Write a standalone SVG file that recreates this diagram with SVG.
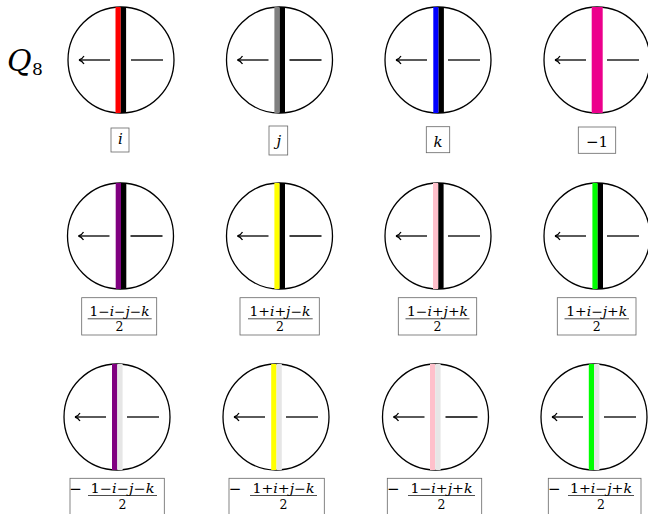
<svg xmlns="http://www.w3.org/2000/svg" width="648" height="514" viewBox="0 0 648 514" font-family="DejaVu Serif, serif">
<style>
.c{fill:#fff;stroke:#000;stroke-width:1.3}
.ln{fill:none;stroke:#000;stroke-width:1.3}
.bx{fill:#fff;stroke:#666;stroke-width:0.8}
text{font-family:"DejaVu Serif",serif;fill:#000}
.t{font-size:12.5px}
.b{font-size:15px}
.m{font-size:15px}
.v{font-style:italic}
.bar{stroke:#000;stroke-width:0.7}
</style>
<defs>
<g id="disc">
<circle class="c" cx="0" cy="0" r="53"/>
</g>
<g id="arrows">
<line class="ln" x1="-42" y1="0" x2="-11" y2="0"/>
<path class="ln" d="M-37,-4 C-38.5,-1.5 -40.5,-0.3 -42,0 C-40.5,0.3 -38.5,1.5 -37,4"/>
<line class="ln" x1="10" y1="0" x2="42" y2="0"/>
</g>
</defs>
<rect width="648" height="514" fill="#fff"/>
<g id="title">
<text class="v" x="7" y="71" font-size="30">Q</text>
<text x="32" y="75" font-size="17">8</text>
</g>
<!-- Row 1 -->
<g id="n-i">
<use href="#disc" x="121" y="60"/>
<rect x="115.5" y="7" width="5.3" height="106" fill="#ff0000"/>
<rect x="120.8" y="7" width="5.3" height="106" fill="#000"/>
<use href="#arrows" x="121" y="60"/>
<rect class="bx" x="111" y="128" width="18" height="24"/>
<text class="b v" x="120.5" y="144" text-anchor="middle">i</text>
</g>
<g id="n-j">
<use href="#disc" x="279.5" y="60"/>
<rect x="274.4" y="7" width="5.3" height="106" fill="#808080"/>
<rect x="279.7" y="7" width="5.3" height="106" fill="#000"/>
<use href="#arrows" x="279.5" y="60"/>
<rect class="bx" x="269" y="126" width="18.7" height="29"/>
<text class="b v" x="278.8" y="145.5" text-anchor="middle">j</text>
</g>
<g id="n-k">
<use href="#disc" x="438" y="60"/>
<rect x="433.3" y="7" width="5.3" height="106" fill="#0000ff"/>
<rect x="438.6" y="7" width="5.3" height="106" fill="#000"/>
<use href="#arrows" x="438" y="60"/>
<rect class="bx" x="426.3" y="126.7" width="23.4" height="26"/>
<text class="b v" x="438" y="147" text-anchor="middle">k</text>
</g>
<g id="n-m1">
<use href="#disc" x="597" y="60"/>
<rect x="591.7" y="7" width="11" height="106" fill="#ec008c"/>
<use href="#arrows" x="597" y="60"/>
<rect class="bx" x="578.3" y="127" width="37.4" height="26.3"/>
<text class="b" x="597" y="146.5" text-anchor="middle">−1</text>
</g>
<!-- Row 2 -->
<g id="n-a">
<use href="#disc" x="120.5" y="236"/>
<rect x="115.7" y="183" width="5.3" height="106" fill="#800080"/>
<rect x="121" y="183" width="5.3" height="106" fill="#000"/>
<use href="#arrows" x="120.5" y="236"/>
<rect class="bx" x="81.7" y="297.7" width="75" height="37.3"/>
<text class="t" x="119.5" y="315.5" text-anchor="middle" textLength="60" lengthAdjust="spacingAndGlyphs">1−<tspan class="v">i</tspan>−<tspan class="v">j</tspan>−<tspan class="v">k</tspan></text>
<line class="bar" x1="87.7" y1="318.8" x2="151.7" y2="318.8"/>
<text class="t" x="119.5" y="331" text-anchor="middle">2</text>
</g>
<g id="n-b">
<use href="#disc" x="279.5" y="236"/>
<rect x="274.4" y="183" width="5.3" height="106" fill="#ffff00"/>
<rect x="279.7" y="183" width="5.3" height="106" fill="#000"/>
<use href="#arrows" x="279.5" y="236"/>
<rect class="bx" x="240" y="297.7" width="79.3" height="37.3"/>
<text class="t" x="280" y="315.5" text-anchor="middle" textLength="61" lengthAdjust="spacingAndGlyphs">1+<tspan class="v">i</tspan>+<tspan class="v">j</tspan>−<tspan class="v">k</tspan></text>
<line class="bar" x1="248" y1="318.8" x2="312.7" y2="318.8"/>
<text class="t" x="280" y="331" text-anchor="middle">2</text>
</g>
<g id="n-c">
<use href="#disc" x="438" y="236"/>
<rect x="433" y="183" width="5.3" height="106" fill="#ffc0cb"/>
<rect x="438.3" y="183" width="5.3" height="106" fill="#000"/>
<use href="#arrows" x="438" y="236"/>
<rect class="bx" x="398.3" y="297.7" width="78.4" height="37.3"/>
<text class="t" x="437.5" y="315.5" text-anchor="middle" textLength="61" lengthAdjust="spacingAndGlyphs">1−<tspan class="v">i</tspan>+<tspan class="v">j</tspan>+<tspan class="v">k</tspan></text>
<line class="bar" x1="405.5" y1="318.8" x2="469.5" y2="318.8"/>
<text class="t" x="437.5" y="331" text-anchor="middle">2</text>
</g>
<g id="n-d">
<use href="#disc" x="597" y="236"/>
<rect x="592.4" y="183" width="5.3" height="106" fill="#00ff00"/>
<rect x="597.7" y="183" width="5.3" height="106" fill="#000"/>
<use href="#arrows" x="597" y="236"/>
<rect class="bx" x="557.3" y="297.7" width="78.7" height="37.3"/>
<text class="t" x="596.7" y="315.5" text-anchor="middle" textLength="61" lengthAdjust="spacingAndGlyphs">1+<tspan class="v">i</tspan>−<tspan class="v">j</tspan>+<tspan class="v">k</tspan></text>
<line class="bar" x1="564.5" y1="318.8" x2="629" y2="318.8"/>
<text class="t" x="596.7" y="331" text-anchor="middle">2</text>
</g>
<!-- Row 3 -->
<g id="n-na">
<use href="#disc" x="117" y="417"/>
<rect x="112" y="364" width="5.3" height="106" fill="#800080"/>
<rect x="117.3" y="364" width="5.3" height="106" fill="#e6e6e6"/>
<use href="#arrows" x="117" y="417"/>
<rect class="bx" x="70" y="478.3" width="94.3" height="40"/>
<text class="m" x="75.5" y="494" text-anchor="middle">−</text>
<text class="t" x="122.5" y="492.5" text-anchor="middle" textLength="64" lengthAdjust="spacingAndGlyphs">1−<tspan class="v">i</tspan>−<tspan class="v">j</tspan>−<tspan class="v">k</tspan></text>
<line class="bar" x1="88" y1="495.5" x2="157" y2="495.5"/>
<text class="t" x="122.5" y="508.5" text-anchor="middle">2</text>
</g>
<g id="n-nb">
<use href="#disc" x="276" y="417"/>
<rect x="271.2" y="364" width="5.3" height="106" fill="#ffff00"/>
<rect x="276.5" y="364" width="5.3" height="106" fill="#e6e6e6"/>
<use href="#arrows" x="276" y="417"/>
<rect class="bx" x="229" y="478.3" width="95.3" height="40"/>
<text class="m" x="235" y="494" text-anchor="middle">−</text>
<text class="t" x="283.5" y="492.5" text-anchor="middle" textLength="62" lengthAdjust="spacingAndGlyphs">1+<tspan class="v">i</tspan>+<tspan class="v">j</tspan>−<tspan class="v">k</tspan></text>
<line class="bar" x1="250" y1="495.5" x2="317" y2="495.5"/>
<text class="t" x="283.5" y="508.5" text-anchor="middle">2</text>
</g>
<g id="n-nc">
<use href="#disc" x="435.5" y="417"/>
<rect x="430" y="364" width="5.3" height="106" fill="#ffc0cb"/>
<rect x="435.3" y="364" width="5.3" height="106" fill="#e6e6e6"/>
<use href="#arrows" x="435.5" y="417"/>
<rect class="bx" x="387.3" y="478.3" width="94.4" height="40"/>
<text class="m" x="393.3" y="494" text-anchor="middle">−</text>
<text class="t" x="441.5" y="492.5" text-anchor="middle" textLength="62" lengthAdjust="spacingAndGlyphs">1−<tspan class="v">i</tspan>+<tspan class="v">j</tspan>+<tspan class="v">k</tspan></text>
<line class="bar" x1="408" y1="495.5" x2="475" y2="495.5"/>
<text class="t" x="441.5" y="508.5" text-anchor="middle">2</text>
</g>
<g id="n-nd">
<use href="#disc" x="594" y="417"/>
<rect x="588.8" y="364" width="5.3" height="106" fill="#00ff00"/>
<rect x="594.1" y="364" width="5.3" height="106" fill="#e6e6e6"/>
<use href="#arrows" x="594" y="417"/>
<rect class="bx" x="548.3" y="478.3" width="92.7" height="40"/>
<text class="m" x="554.3" y="494" text-anchor="middle">−</text>
<text class="t" x="601" y="492.5" text-anchor="middle" textLength="62" lengthAdjust="spacingAndGlyphs">1+<tspan class="v">i</tspan>−<tspan class="v">j</tspan>+<tspan class="v">k</tspan></text>
<line class="bar" x1="568" y1="495.5" x2="634" y2="495.5"/>
<text class="t" x="601" y="508.5" text-anchor="middle">2</text>
</g>
<g id="connectors"/>
</svg>
